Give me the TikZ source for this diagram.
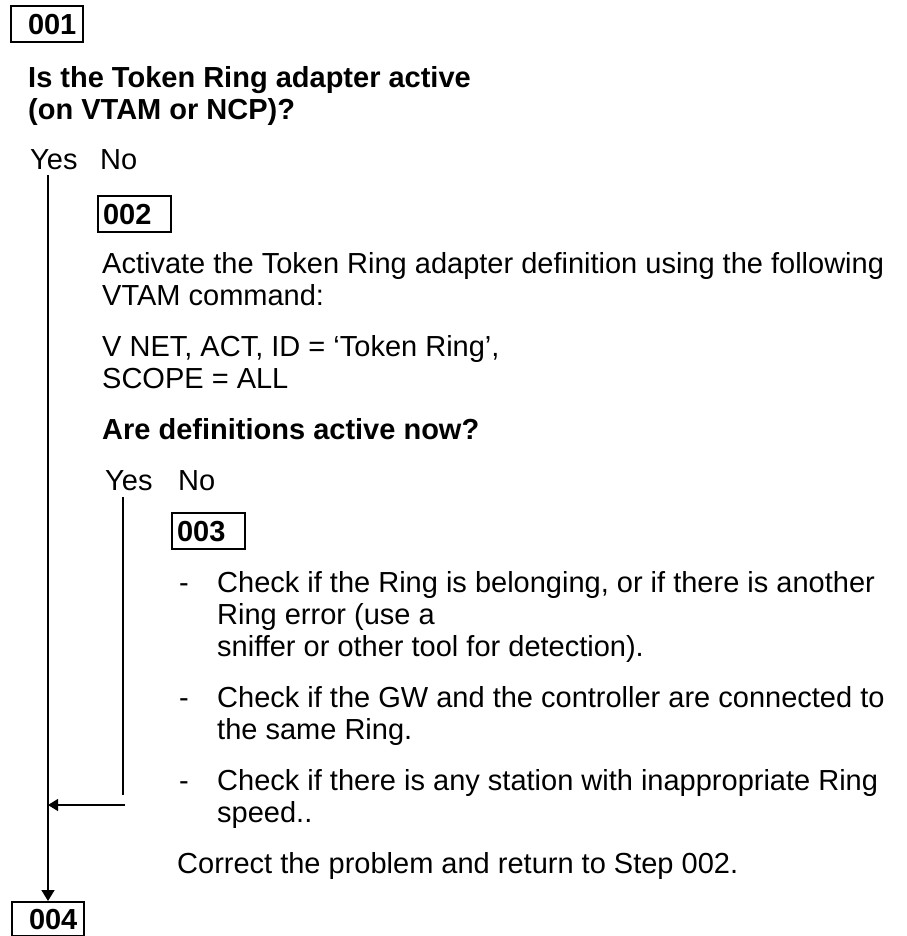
\documentclass[tikz,border=0pt]{standalone}
\usepackage{fontspec}
\setmainfont{Liberation Sans}
\usetikzlibrary{arrows.meta}

\begin{document}
\begin{tikzpicture}[
      x=1pt, y=-1pt,
      every node/.style={font=\fontsize{29}{32}\selectfont, inner sep=0pt},
      txt/.style={anchor=base west, align=left},
      ask/.style={txt, font=\fontsize{29}{32}\selectfont\bfseries},
      stepbox/.style={draw, line width=2pt, anchor=north west, align=left,
        font=\fontsize{29}{32}\selectfont\bfseries,
        minimum height=36pt, text height=20.5pt, text depth=0pt},
      outerstep/.style={stepbox, text width=38pt, inner xsep=17pt},
      innerstep/.style={stepbox, text width=63pt, inner xsep=5pt},
      yesline/.style={draw, line width=1.6pt},
      noline/.style={draw, line width=1.1pt},
      tip/.style={-{Triangle[length=11pt, width=13pt]}}
    ]
      \useasboundingbox (0,0) rectangle (906,936);

      % step 001 (multi-line texts are placed by their last baseline)
      \node[outerstep] (s001) at (10,5) {001};
      \node[ask] (q1) at (28,120) {Is the Token Ring adapter active\\(on VTAM or NCP)?};
      \node[txt] (yes1) at (30,170) {Yes};
      \node[txt] (no1) at (100,170) {No};

      % step 002
      \node[innerstep] (s002) at (97,195) {002};
      \node[txt] (act) at (102,305) {Activate the Token Ring adapter definition using the following\\VTAM command:};
      \node[txt] (cmd) at (102,388) {V NET, ACT, ID = ‘Token Ring’,\\SCOPE = ALL};
      \node[ask] (q2) at (102,439) {Are definitions active now?};
      \node[txt] (yes2) at (105,490) {Yes};
      \node[txt] (no2) at (178,490) {No};

      % step 003
      \node[innerstep] (s003) at (171,512) {003};
      \foreach \y/\n in {592/1, 707/2, 790/3}
        \node[txt] (dash\n) at (179,\y) {-};
      \node[txt] (chk1) at (217,656) {Check if the Ring is belonging, or if there is another\\Ring error (use a\\sniffer or other tool for detection).};
      \node[txt] (chk2) at (217,739) {Check if the GW and the controller are connected to\\the same Ring.};
      \node[txt] (chk3) at (217,822) {Check if there is any station with inappropriate Ring\\speed..};
      \node[txt] (fix) at (177,873) {Correct the problem and return to Step 002.};

      % step 004
      \node[outerstep, minimum height=34pt] (s004) at (11,901) {004};

      % yes / no paths
      \coordinate (bend) at (123,795);
      \coordinate (back) at (125,805);
      \draw[yesline, tip] ([yshift=-5pt]s004.north |- yes1.south) -- (s004.north);
      \draw[noline] ([yshift=-7pt]bend |- yes2.south) -- (bend);
      \draw[noline, -{Triangle[length=10pt, width=12pt]}] (back) -- (back -| s004.north);
    \end{tikzpicture}
\end{document}
